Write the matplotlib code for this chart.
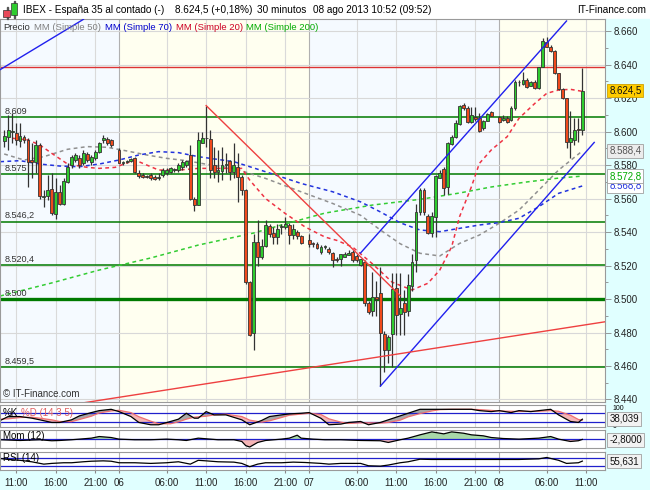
"""
Gráfico intradía del IBEX 35 (velas de 30 minutos) con medias móviles, canal de
tendencia, soportes/resistencias y los paneles de estocástico, momento y RSI.
"""

import numpy as np
import pandas as pd
import matplotlib

matplotlib.use("Agg")
import matplotlib.pyplot as plt
from matplotlib.patches import Rectangle


# DATOS

ORIGEN = pd.Timestamp("2013-08-06 00:00")

# velas de 30 minutos (no hay vela a las 23:30)
FECHAS = (
    pd.date_range("2013-08-05 09:30", "2013-08-05 23:00", freq="30min")
    .append(pd.date_range("2013-08-06 00:00", "2013-08-06 23:00", freq="30min"))
    .append(pd.date_range("2013-08-07 00:00", "2013-08-07 23:00", freq="30min"))
    .append(pd.date_range("2013-08-08 00:00", "2013-08-08 10:30", freq="30min"))
)

APERTURA = [
    # 05/08
    8594.6, 8597, 8600, 8599, 8594.6, 8597, 8595, 8583, 8582, 8592, 8561, 8561.4, 8565.6, 8551,
    8564, 8557, 8570, 8580, 8583, 8584, 8581, 8586.6, 8582, 8584, 8587.6, 8595, 8595.4, 8595,
    # 06/08
    8589, 8581.4, 8582, 8582.6, 8584, 8575, 8574, 8573, 8574, 8573, 8572, 8574, 8575, 8576,
    8577, 8577, 8579, 8580, 8586, 8560, 8556, 8593.4, 8596, 8595.4, 8580, 8576, 8576.4, 8580,
    8582.4, 8576, 8579, 8573, 8565, 8510, 8479.5, 8534, 8525, 8531.6, 8543.6, 8539.6, 8537,
    8543, 8542.8, 8544, 8538, 8540, 8537.6,
    # 07/08
    8535, 8533, 8533, 8528.3, 8531, 8530, 8527.7, 8524, 8523.7, 8525.3, 8526.5, 8528.3, 8525.7,
    8520.3, 8522.3, 8497.4, 8493, 8501, 8503.4, 8479, 8469.5, 8479, 8506.3, 8491, 8497.8, 8493,
    8507.7, 8523.3, 8552, 8565, 8549.6, 8539.6, 8549, 8572.4, 8577.4, 8566.7, 8592.6, 8596.5,
    8604.5, 8615.8, 8613.8, 8605.9, 8608.5, 8607.9, 8602, 8606.5, 8611.8,
    # 08/08
    8608.5, 8607, 8607.9, 8606.9, 8613.8, 8629.4, 8628.4, 8630.7, 8627.4, 8629.4, 8625.8,
    8638.7, 8653.6, 8650.6, 8648.3, 8634.7, 8625.2, 8619.8, 8594, 8595, 8601, 8601,
]
MAXIMO = [
    8601, 8610, 8611, 8605, 8605, 8598, 8596, 8593, 8595, 8593, 8565, 8574, 8575, 8572,
    8568, 8572, 8581, 8586, 8587, 8586, 8589, 8588, 8586, 8589, 8594, 8598, 8597, 8595.4,
    8590, 8582.6, 8583, 8584, 8585, 8577, 8575, 8574, 8575, 8574, 8575, 8578, 8578, 8579,
    8578, 8581, 8583, 8583, 8592, 8561, 8600, 8600, 8615, 8601, 8591, 8589, 8591, 8587,
    8583, 8593, 8587, 8574, 8565.5, 8510.5, 8539, 8547, 8536, 8547, 8545, 8543, 8545,
    8545, 8548.7, 8545.6, 8545, 8541, 8538,
    8539, 8534, 8534, 8532, 8532, 8531, 8528.3, 8525, 8527, 8528, 8529, 8529, 8527,
    8524, 8523, 8499, 8516, 8511, 8519, 8481, 8478.5, 8515.3, 8515.3, 8515.7, 8505.4, 8515,
    8527, 8557, 8566, 8566, 8551, 8552, 8574, 8577, 8578.6, 8594, 8598, 8607,
    8616, 8616.8, 8615, 8614.8, 8614.8, 8611, 8607, 8611, 8612,
    8609, 8610, 8609, 8615, 8631, 8631, 8635.7, 8631.7, 8630, 8630.7, 8638.7,
    8655.6, 8656.2, 8651.6, 8648.7, 8635.1, 8625.8, 8619.8, 8612, 8608, 8608, 8637.7,
]
MINIMO = [
    8590.6, 8589, 8593, 8592, 8591, 8593, 8567, 8572, 8575, 8560, 8555, 8559, 8550, 8548,
    8556, 8556, 8569, 8578, 8582, 8578, 8580, 8582, 8580, 8583, 8587, 8593, 8592, 8591,
    8581, 8580, 8581, 8582, 8575, 8572, 8572, 8572, 8571, 8571, 8571, 8573, 8574, 8575,
    8576, 8576, 8577, 8579, 8559, 8552.6, 8556, 8593, 8591, 8572, 8572, 8570, 8571, 8575,
    8571, 8572, 8558, 8562, 8509, 8478, 8469.6, 8520, 8523.7, 8531, 8537, 8533, 8533,
    8539, 8542, 8533, 8536, 8536, 8533,
    8531, 8531, 8530, 8527, 8530, 8527, 8519.3, 8522, 8520, 8525, 8526, 8522, 8522,
    8519.5, 8496, 8491, 8490, 8490, 8448, 8456.6, 8461.6, 8459.6, 8478.5, 8478.5, 8478.5, 8490,
    8505, 8516, 8550, 8550, 8539, 8537, 8537, 8572, 8562, 8563, 8592, 8596,
    8604, 8612.8, 8605.3, 8605, 8606, 8600, 8601, 8606, 8609,
    8605, 8606, 8605, 8606, 8613, 8627, 8628, 8625.8, 8627, 8625.2, 8625.2,
    8638.3, 8650.2, 8647.7, 8634.3, 8624.8, 8619.2, 8590, 8584, 8592, 8594, 8598,
]
CIERRE = [
    8597.6, 8601, 8600.5, 8595, 8597.6, 8595, 8582, 8582, 8592, 8561.4, 8561.5, 8565, 8551.4, 8564,
    8557, 8570.4, 8579, 8585, 8585.8, 8580, 8587.4, 8583, 8585, 8588, 8593, 8596, 8593, 8592,
    8581.4, 8582, 8582.6, 8583.4, 8576, 8573.4, 8572.6, 8572.6, 8572, 8571.4, 8572.6, 8577, 8577, 8578,
    8577.6, 8580, 8582, 8582.6, 8560, 8556, 8595, 8596, 8595.6, 8577, 8576, 8577, 8580, 8580.5,
    8576, 8580, 8572.6, 8565, 8510.4, 8478.5, 8534, 8525, 8531.6, 8544, 8539, 8537, 8542,
    8543.5, 8544.8, 8538, 8541.6, 8537.6, 8533.6,
    8533, 8532.6, 8530.4, 8531.2, 8531.6, 8528.3, 8523.3, 8523.5, 8526.9, 8526.9, 8527.3, 8523.3, 8523.3,
    8523.7, 8497.4, 8492, 8501.4, 8500, 8480, 8469.5, 8477.5, 8505.8, 8490.4, 8494.4, 8492.4, 8508.3,
    8522.3, 8552, 8565, 8552, 8539.6, 8549.6, 8573.4, 8575.4, 8566, 8593.3, 8597, 8605.3,
    8615.2, 8613.8, 8605.9, 8609.9, 8607.5, 8600.5, 8606, 8610.3, 8609.3,
    8605.9, 8608, 8605.9, 8613.8, 8629.8, 8629.8, 8630.7, 8626.8, 8629.4, 8625.8, 8638.3,
    8654.2, 8650.6, 8648.3, 8634.7, 8625.2, 8619.8, 8593.9, 8596, 8601, 8600.8, 8624.5,
]

# medias móviles (horas desde 06/08 00:00, precio)
MM50_HORAS = [-14.5, -12, -9.5, -6.5, -4, -1.5, 1, 3.5, 6, 8.5, 11, 14.5, 18.5, 23, 27, 30.5,
              33, 35.5, 38, 40.5, 43, 45.5, 48, 50.5, 53, 55.5, 58.5]
MM50 = [8586.6, 8583, 8585, 8589.4, 8591, 8590.6, 8588.4, 8586, 8584, 8582.6, 8580.5, 8578,
        8572, 8564, 8557, 8550, 8541.2, 8533, 8527.3, 8525.7, 8533.2, 8538.2, 8545.2, 8553.1,
        8565, 8577, 8588.4]

MM70_HORAS = [-15, -12.5, -10, -7.5, -5, -2.5, 0, 2.5, 5, 7.5, 10, 14.5, 18.5, 23, 27, 30.5,
              33, 35.5, 38, 40.5, 43, 45.5, 48, 50.5, 53, 55.5, 58.5]
MM70 = [8582, 8582.6, 8580.6, 8579.4, 8579, 8580.6, 8583, 8586, 8588, 8587.4, 8585, 8582,
        8576, 8569, 8564, 8558, 8552, 8545.5, 8541.2, 8540.2, 8542.2, 8544.2, 8545.6, 8548.2,
        8555.1, 8563.1, 8567.5]

MM20_HORAS = [-13.5, -11.5, -10, -8.5, -6.5, -4, -2.5, -0.5, 2, 3.5, 5, 7.5, 10, 12.5, 15.5,
              16.5, 18.5, 21, 23.5, 26, 27.5, 29.5, 32, 34.5, 37, 39, 40.5, 42, 43, 44.5, 45.5,
              47, 49, 50.5, 52.5, 54, 55.5, 57, 58.5]
MM20 = [8596, 8595, 8592, 8587, 8580.6, 8578.6, 8578, 8578.6, 8583, 8580, 8577, 8577, 8578,
        8578, 8578, 8571, 8560, 8551, 8543, 8537, 8535, 8531, 8521, 8510, 8505.4, 8509.4,
        8517.3, 8531.2, 8549.2, 8567.1, 8581, 8589, 8596.9, 8607.9, 8616.8, 8622.8, 8624.8,
        8625.2, 8624]

MM200_HORAS = [-15, -8.5, -2.5, 4, 10, 17, 20.5, 26, 32, 38, 43, 47, 51.5, 55.5, 58.5]
MM200 = [8501.8, 8509.6, 8517.3, 8524.5, 8532.2, 8539.4, 8544.2, 8551.3, 8556.1, 8559.5,
         8563.3, 8566.9, 8569.9, 8572.2, 8573.4]

# soportes y resistencias
NIVELES = [8608.7, 8574.6, 8546.2, 8520.4, 8500, 8459.5]
ETIQUETAS_NIVELES = ["8.609", "8.575", "8.546,2", "8.520,4", "8.500", "8.459,5"]
RESISTENCIA_ROJA = 8638.5

# líneas de tendencia: (hora inicio, precio inicio, hora fin, precio fin)
LINEAS_AZULES = [(-15, 8637, -4.5, 8667), (30.5, 8527.5, 56.5, 8666), (33, 8448, 60, 8593.5)]
LINEAS_ROJAS = [(11, 8615.5, 35.5, 8502), (-4.5, 8438, 61.5, 8486.5)]

# indicadores
ESTOC_HORAS = [-15, -14, -12.5, -11, -10, -8.5, -7.5, -6, -5, -3.5, -2.5, -1, 0, 1.5, 2.5, 4,
               5, 6.5, 7.5, 8.5, 9.5, 10, 11, 12, 13.5, 15.5, 16.5, 18, 19, 20.5, 21.5, 23,
               24, 25.5, 26.5, 28, 29, 30.5, 31.5, 33, 34, 35.5, 36.5, 38, 39.5, 40.5, 42,
               43, 44.5, 45.5, 47, 48, 49.5, 50.5, 52, 53, 54.5, 55.5, 57, 58, 58.5]
ESTOC_K = [32, 56, 56, 46, 36, 20, 20, 36, 60, 80, 92, 100, 86, 56, 20, 6, 6, 26, 40, 76, 46,
           46, 86, 66, 66, 36, 6, 32, 56, 66, 72, 76, 80, 45, 6, 10, 20, 26, 6, 20, 36, 60,
           76, 100, 100, 100, 100, 100, 100, 92, 86, 92, 80, 92, 86, 92, 100, 66, 26, 20, 40]
ESTOC_D = [40, 42, 50, 52, 46, 36, 26, 25, 38, 58, 78, 90, 94, 80, 55, 28, 12, 12, 24, 40, 52,
           54, 58, 66, 70, 56, 34, 22, 30, 50, 64, 71, 76, 68, 42, 22, 14, 18, 18, 16, 20, 34,
           54, 74, 90, 98, 100, 100, 100, 98, 93, 90, 88, 87, 88, 88, 92, 88, 64, 38, 34]

MOM_HORAS = [-15, -12.5, -10, -8.5, -7.5, -6, -5, -3.5, -2.5, -1, 0, 2, 4, 6, 7.5, 8.5, 10, 11,
             12.5, 14.5, 15.5, 16, 16.5, 17.5, 18.5, 20.5, 21.5, 22.5, 23, 24.5, 26, 28, 30.5,
             33, 34, 35.5, 36.5, 38, 39.5, 41, 42, 43.5, 44.5, 46, 47, 48.5, 50.5, 53, 54.5,
             55.5, 57, 58, 58.5]
MOM = [-7, -15, -7, -18, -15, -7, 0, 11, 29, 18, 0, -7, -7, 0, -7, -15, 11, 4, -7, -7, -26,
       -73, -88, -37, -15, 0, 11, 44, 11, 0, -7, -7, -15, -18, -37, -7, 11, 48, 81, 59, 81,
       66, 48, 37, 18, 7, 0, 11, 29, 0, -26, -18, -3]

RSI_HORAS = [-15, -14, -12.5, -11, -9.5, -8.5, -7, -6, -4.5, -3.5, -2, -1, 0, 2, 4, 6, 7.5, 9,
             10, 11, 12.5, 14.5, 15.5, 16.5, 17.5, 18.5, 20.5, 22, 23.5, 25.5, 26.5, 28, 30.5,
             31.5, 33, 34, 35.5, 36.5, 38, 39.5, 40.5, 42, 46.5, 48.5, 50.5, 53, 54, 55.5,
             56.5, 58, 58.5]
RSI = [70, 64.6, 60, 51.7, 39, 43, 46.6, 46.6, 52, 55, 57, 55, 46.6, 46.6, 43, 46.6, 52, 39,
       60, 57, 52, 50, 43, 25, 39, 46.6, 46.6, 50, 48, 43, 39, 43, 43, 30, 28, 34, 46.6, 52,
       66, 64.6, 64.6, 64.6, 64.6, 64.6, 64.6, 68, 75.5, 60, 43, 46.6, 55.6]

# eje de tiempo
HORAS_TICKS = [-13, -8, -3, 0, 6, 11, 16, 21, 24, 30, 35, 40, 45, 48, 54, 59]
ETIQUETAS_TICKS = ["11:00", "16:00", "21:00", "06", "06:00", "11:00", "16:00", "21:00", "07",
                   "06:00", "11:00", "16:00", "21:00", "08", "06:00", "11:00"]
CAMBIOS_DIA = [0, 24, 48]


# ESTILO Y GEOMETRÍA

ANCHO, ALTO = 650, 490
H_IZQ, H_DER = -15.03, 61.36
VERDE_VELA = "#2ecc2e"
ROJO_VELA = "#f04a1c"
BORDE = "#9a9a9a"
CIAN = "#e0ffff"

plt.rcParams["font.family"] = ["Liberation Sans", "DejaVu Sans"]
plt.rcParams["font.size"] = 7


def fx(x: float) -> float:
    return x / ANCHO


def fy(y: float) -> float:
    return 1 - y / ALTO


def crear_ejes(fig, x0: float, y0: float, x1: float, y1: float):
    ax = fig.add_axes([fx(x0), fy(y1), (x1 - x0) / ANCHO, (y1 - y0) / ALTO])
    ax.set_xlim(H_IZQ, H_DER)
    ax.set_xticks([])
    ax.set_yticks([])
    for lado in ax.spines.values():
        lado.set_color(BORDE)
        lado.set_linewidth(0.8)
    return ax


def rejilla_vertical(ax) -> None:
    for h in HORAS_TICKS:
        color = "#b0b0b0" if h in CAMBIOS_DIA else "#dadada"
        ax.axvline(h, color=color, lw=0.8, zorder=0.5)


def etiqueta_derecha(ax, valor, texto, color_texto, fondo, borde="#a0a0a0", z=5):
    ax.text(
        1.007, valor, texto, transform=ax.get_yaxis_transform(), ha="left", va="center",
        fontsize=7, color=color_texto, zorder=z, clip_on=False,
        bbox=dict(boxstyle="square,pad=0.2", fc=fondo, ec=borde, lw=0.6),
    )


# PANEL PRINCIPAL


def graficar_precio(ax, horas: np.ndarray) -> None:
    ax.set_ylim(8438.5, 8667.2)

    # fondo alterno por día
    fondos = [(H_IZQ, 0, "#f5faff"), (0, 24, "#fffff0"), (24, 48, "#f5faff"), (48, H_DER, "#fffff0")]
    for a, b, c in fondos:
        ax.axvspan(a, b, color=c, zorder=0, lw=0)

    ax.yaxis.tick_right()
    ax.set_yticks(np.arange(8440, 8661, 20))
    ax.set_yticks(np.arange(8450, 8661, 20), minor=True)
    ax.set_yticklabels([f"{v:,.0f}".replace(",", ".") for v in np.arange(8440, 8661, 20)])
    ax.tick_params(axis="y", which="major", length=4, width=0.6, color="#888888",
                   labelsize=7, pad=2, labelcolor="#222222")
    ax.tick_params(axis="y", which="minor", length=2, width=0.6, color="#888888")
    ax.grid(axis="y", which="major", color="#d8d8d8", lw=0.8, zorder=0.5)
    ax.set_axisbelow(True)
    rejilla_vertical(ax)

    # soportes y resistencias
    for nivel, etiqueta in zip(NIVELES, ETIQUETAS_NIVELES):
        ax.axhline(nivel, color="#007a00", lw=2.4 if nivel == 8500 else 1.1, zorder=2)
        ax.annotate(etiqueta, xy=(H_IZQ, nivel), xytext=(3, 1), textcoords="offset points",
                    fontsize=6.5, color="#333333", va="bottom", zorder=6)
    ax.axhline(RESISTENCIA_ROJA, color="#dd3333", lw=1.0, zorder=2)

    # medias móviles
    estilo = dict(lw=1.1, ls=(0, (2.5, 2.2)), zorder=2.5)
    ax.plot(MM200_HORAS, MM200, color="#33cc33", **estilo)
    ax.plot(MM50_HORAS, MM50, color="#909090", **estilo)
    ax.plot(MM70_HORAS, MM70, color="#2233dd", **estilo)
    ax.plot(MM20_HORAS, MM20, color="#ee3344", **estilo)

    # velas
    apertura = np.array(APERTURA)
    cierre = np.array(CIERRE)
    colores = np.where(cierre >= apertura, VERDE_VELA, ROJO_VELA)
    ax.vlines(horas, MINIMO, MAXIMO, color="#333333", lw=0.9, zorder=3)
    altura = np.where(np.abs(cierre - apertura) < 0.4, 0.4, cierre - apertura)
    ax.bar(horas, altura, bottom=apertura, width=0.36, color=colores,
           edgecolor="#333333", linewidth=0.6, zorder=3.5)

    # líneas de tendencia
    for h0, p0, h1, p1 in LINEAS_AZULES:
        ax.plot([h0, h1], [p0, p1], color="#2020ee", lw=1.0, zorder=4)
    for h0, p0, h1, p1 in LINEAS_ROJAS:
        ax.plot([h0, h1], [p0, p1], color="#ee4040", lw=1.0, zorder=4)

    ax.text(0.005, 0.012, "© IT-Finance.com", transform=ax.transAxes, fontsize=7,
            color="#333333", zorder=6)

    # cajas de valores a la derecha
    etiqueta_derecha(ax, 8567.5, "8.568,8", "#2233dd", "white", z=5)
    etiqueta_derecha(ax, 8573.4, "8.572,8", "#00aa00", "white", z=6)
    etiqueta_derecha(ax, 8588.4, "8.588,4", "#555555", "#ececec", z=6)
    etiqueta_derecha(ax, 8624.5, "8.624,5", "#111111", "#ffcc00", borde="#d0a000", z=6)


# INDICADORES


def graficar_estocastico(ax) -> None:
    ax.set_ylim(-7.6, 126.2)
    rejilla_vertical(ax)
    k = np.array(ESTOC_K, dtype=float)
    d = np.array(ESTOC_D, dtype=float)
    ax.fill_between(ESTOC_HORAS, k, d, where=k >= d, interpolate=True, color="#a8a8a8", lw=0)
    ax.fill_between(ESTOC_HORAS, k, d, where=k < d, interpolate=True, color="#f5b5b5", lw=0)
    for nivel in (20, 80):
        ax.axhline(nivel, color="#2020cc", lw=0.9)
    ax.plot(ESTOC_HORAS, d, color="#f07070", lw=0.9)
    ax.plot(ESTOC_HORAS, k, color="black", lw=0.9)
    ax.text(0.005, 80, "%K", transform=ax.get_yaxis_transform(), va="center", fontsize=7)
    ax.text(0.035, 80, "%D (14 3 5)", transform=ax.get_yaxis_transform(), va="center",
            fontsize=7, color="#e06060")
    ax.text(1.012, 102, "100", transform=ax.get_yaxis_transform(), va="center", fontsize=5)
    ax.text(1.012, -4, "0", transform=ax.get_yaxis_transform(), va="center", fontsize=5)
    etiqueta_derecha(ax, 42, "38,039", "#111111", "#f2f2f2", z=6)


def graficar_momento(ax) -> None:
    ax.set_ylim(-99, 102)
    rejilla_vertical(ax)
    mom = np.array(MOM, dtype=float)
    ax.fill_between(MOM_HORAS, mom, 0, where=mom >= 0, interpolate=True, color="#a8d8a8", lw=0)
    ax.fill_between(MOM_HORAS, mom, 0, where=mom < 0, interpolate=True, color="#f5b5b5", lw=0)
    ax.axhline(0, color="#2020cc", lw=0.9)
    ax.plot(MOM_HORAS, mom, color="black", lw=0.9)
    ax.text(0.005, 30, "Mom (12)", transform=ax.get_yaxis_transform(), va="center", fontsize=7)
    etiqueta_derecha(ax, -7, "-2,8000", "#111111", "#f2f2f2")


def graficar_rsi(ax) -> None:
    ax.set_ylim(6.8, 105.6)
    rejilla_vertical(ax)
    for nivel in (30, 70):
        ax.axhline(nivel, color="#2020cc", lw=0.9)
    ax.plot(RSI_HORAS, RSI, color="black", lw=0.9)
    ax.text(0.005, 70, "RSI (14)", transform=ax.get_yaxis_transform(), va="center", fontsize=7)
    etiqueta_derecha(ax, 55.6, "55,631", "#111111", "#f2f2f2")
    ax.set_xticks(HORAS_TICKS)
    ax.set_xticklabels(ETIQUETAS_TICKS)
    ax.tick_params(axis="x", length=2, color="#888888", labelsize=7, pad=4,
                   labelcolor="#222222")


# CABECERA


def dibujar_cabecera(fig) -> None:
    def rect(x0, y0, x1, y1, color, **kw):
        fig.patches.append(Rectangle((fx(x0), fy(y1)), (x1 - x0) / ANCHO, (y1 - y0) / ALTO,
                                     transform=fig.transFigure, color=color, **kw))

    # fondos cian del eje de precios y del eje de tiempo
    rect(605, 19, ANCHO, ALTO, CIAN, zorder=-1)
    rect(0, 470, ANCHO, ALTO, CIAN, zorder=-1)

    # icono de velas
    rect(6.5, 7, 7.5, 19, "#555555")
    rect(3, 10, 10, 17, "#e84a5a", ec="#333333", lw=0.5)
    rect(13.5, 1, 14.5, 18, "#555555")
    rect(11, 3, 17, 15, "#2ecc2e", ec="#333333", lw=0.5)

    y = fy(10)
    fig.text(fx(23), y, "IBEX - España 35 al contado (-)", va="center", fontsize=7.2)
    fig.text(fx(175), y, "8.624,5 (+0,18%)", va="center", fontsize=7.2)
    fig.text(fx(257), y, "30 minutos", va="center", fontsize=7.2)
    fig.text(fx(313), y, "08 ago 2013 10:52 (09:52)", va="center", fontsize=7.2)
    fig.text(fx(646), y, "IT-Finance.com", va="center", ha="right", fontsize=7.2)

    # leyenda de medias móviles
    y = fy(27)
    leyenda = [
        (3, "Precio", "#333333"),
        (34, "MM (Simple 50)", "#808080"),
        (105, "MM (Simple 70)", "#0000cc"),
        (176, "MM (Simple 20)", "#cc0022"),
        (246, "MM (Simple 200)", "#00aa00"),
    ]
    for x, texto, color in leyenda:
        fig.text(fx(x), y, texto, va="center", fontsize=6.8, color=color, zorder=10)


if __name__ == "__main__":
    horas = ((FECHAS - ORIGEN) / pd.Timedelta(hours=1)).to_numpy()

    fig = plt.figure(figsize=(ANCHO / 100, ALTO / 100), dpi=100)
    fig.patch.set_facecolor("white")

    ax_precio = crear_ejes(fig, 0, 19, 605, 402)
    ax_estoc = crear_ejes(fig, 0, 405, 605, 427)
    ax_mom = crear_ejes(fig, 0, 430, 605, 448)
    ax_rsi = crear_ejes(fig, 0, 452, 605, 470)

    graficar_precio(ax_precio, horas)
    graficar_estocastico(ax_estoc)
    graficar_momento(ax_mom)
    graficar_rsi(ax_rsi)
    dibujar_cabecera(fig)

    fig.savefig("out.png", dpi=100)
